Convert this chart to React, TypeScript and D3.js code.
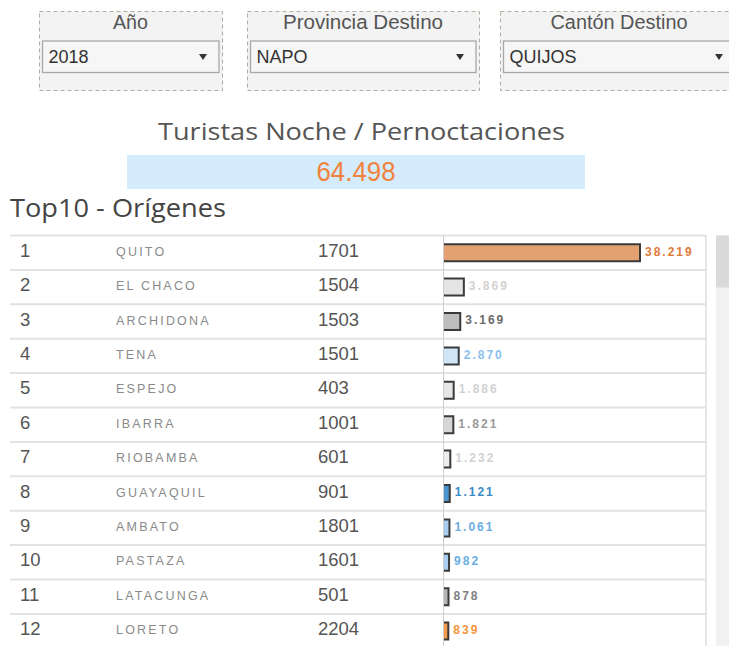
import React from "react";
import * as d3 from "d3";

// ---- Data ----
const filterTitles = ["Año", "Provincia Destino", "Cantón Destino"];
const filterValues = ["2018", "NAPO", "QUIJOS"];
const headline = "Turistas Noche / Pernoctaciones";
const totalValue = 64498;
const ranks = [1, 2, 3, 4, 5, 6, 7, 8, 9, 10, 11, 12];
const origins = [
  "QUITO", "EL CHACO", "ARCHIDONA", "TENA", "ESPEJO", "IBARRA",
  "RIOBAMBA", "GUAYAQUIL", "AMBATO", "PASTAZA", "LATACUNGA", "LORETO",
];
const codes = [1701, 1504, 1503, 1501, 403, 1001, 601, 901, 1801, 1601, 501, 2204];
const nights = [38219, 3869, 3169, 2870, 1886, 1821, 1232, 1121, 1061, 982, 878, 839];
const barFills = [
  "#e3a171", "#e4e4e4", "#bdbdbd", "#cfe5f8", "#e6e6e6", "#d6d6d6",
  "#ececec", "#4a93cc", "#a9cdee", "#a9cdee", "#b5b5b5", "#f59a4a",
];
const labelColors = [
  "#e07b39", "#d2d2d2", "#6b6b6b", "#8cbfee", "#d2d2d2", "#9a9a9a",
  "#d2d2d2", "#3b8ac6", "#6aaee3", "#6aaee3", "#808080", "#f5943c",
];

const fmt = (v: number) => d3.format(",")(v).replace(/,/g, ".");

const boxes = [
  { x0: 39, x1: 222, tw: 35 },
  { x0: 247, x1: 479, tw: 160 },
  { x0: 500, x1: 738, tw: 137 },
];

export default function App() {
  const W = 729, H = 646;
  const tableTop = 235.5;
  const rowH = 34.4;
  const y = d3.scaleBand<number>().domain(ranks).range([tableTop, tableTop + rowH * ranks.length]);
  const axisX = 443.5;
  const x = d3.scaleLinear().domain([0, nights[0]]).range([0, 196]);

  return (
    <svg width={W} height={H} style={{ position: "absolute", left: 0, top: 0, background: "#fff" }}>
      {/* Filters */}
      {boxes.map((b, i) => {
        const cx = (b.x0 + b.x1) / 2;
        const sx0 = b.x0 + 3.5, sx1 = b.x1 - 3;
        return (
          <g key={i}>
            <rect x={b.x0 + 0.5} y={11.5} width={b.x1 - b.x0} height={79} fill="#f3f3f3"
              stroke="#b3ad9f" strokeDasharray="4,3" />
            <text x={cx} y={28.8} textAnchor="middle" fontFamily="Liberation Sans, Arial" fontSize={19.5}
              textLength={b.tw} lengthAdjust="spacingAndGlyphs" fill="#555">{filterTitles[i]}</text>
            <rect x={sx0} y={41} width={sx1 - sx0} height={31.5} fill="#f6f6f6" stroke="#a8a8a8" strokeWidth={1.3} />
            <text x={sx0 + 6} y={63} fontFamily="Liberation Sans, Arial" fontSize={18} fill="#333">{filterValues[i]}</text>
            <path d={`M${sx1 - 20},54 L${sx1 - 12},54 L${sx1 - 16},60 Z`} fill="#333" />
          </g>
        );
      })}

      {/* Headline */}
      <text x={361.5} y={140} textAnchor="middle" fontFamily="Open Sans" fontWeight={500} fontSize={24.5} fill="#555"
        textLength={407} lengthAdjust="spacingAndGlyphs">{headline}</text>
      <rect x={127} y={155} width={458} height={34} fill="#d4ebfb" />
      <text x={356} y={181} textAnchor="middle" fontFamily="Liberation Sans, Arial" fontSize={28}
        textLength={79} lengthAdjust="spacingAndGlyphs" fill="#f0823c">{fmt(totalValue)}</text>

      <text x={10} y={217} fontFamily="Open Sans" fontWeight={500} fontSize={25.5} fill="#444"
        textLength={216} lengthAdjust="spacingAndGlyphs">Top10 - Orígenes</text>

      {/* Table */}
      {ranks.map((r) => (
        <line key={"sep" + r} x1={10} x2={706} y1={(y(r) as number)} y2={(y(r) as number)} stroke="#e2e2e2" strokeWidth={2} />
      ))}
      <line x1={axisX} x2={axisX} y1={tableTop} y2={H} stroke="#cfcfcf" strokeWidth={1} />
      <line x1={706} x2={706} y1={tableTop} y2={H} stroke="#dedede" strokeWidth={1.5} />

      {ranks.map((r, i) => {
        const c = (y(r) as number) + y.bandwidth() / 2;
        const bx = axisX + 0.5;
        const w = Math.max(x(nights[i]), 3);
        const bt = c - 8.5, bb = c + 8.5;
        return (
          <g key={r}>
            <text x={20} y={c + 4} fontFamily="Liberation Sans, Arial" fontSize={18.5} fill="#555">{r}</text>
            <text x={116} y={c + 3} fontFamily="Liberation Sans, Arial" fontSize={12.5} letterSpacing={2.2}
              fill="#8a8a8a">{origins[i]}</text>
            <text x={318} y={c + 4} fontFamily="Liberation Sans, Arial" fontSize={18.5} fill="#555">{codes[i]}</text>
            <rect x={bx} y={bt} width={w} height={bb - bt} fill={barFills[i]} />
            <path d={`M${bx},${bt} L${bx + w},${bt} L${bx + w},${bb} L${bx},${bb}`} fill="none" stroke="#3a3a3a" strokeWidth={2} />
            <text x={bx + w + 5} y={c + 2.8} fontFamily="Liberation Sans, Arial" fontWeight="bold" fontSize={12}
              letterSpacing={2} fill={labelColors[i]}>{fmt(nights[i])}</text>
          </g>
        );
      })}

      {/* Scrollbar */}
      <rect x={716} y={tableTop} width={13} height={H - tableTop} fill="#f1f1f1" />
      <rect x={716} y={tableTop} width={13} height={52} fill="#dadada" />
    </svg>
  );
}
